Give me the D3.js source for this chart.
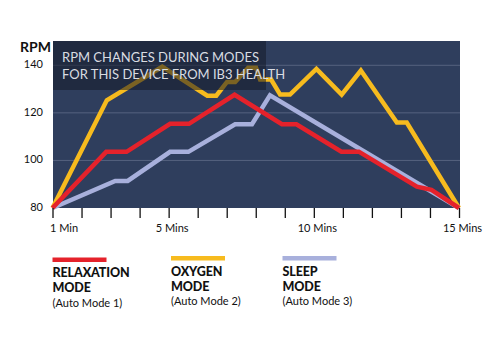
<!DOCTYPE html>
<html>
<head>
<script src="https://d3js.org/d3.v7.min.js"></script>
<style>
  body { margin: 0; background: #fff; }
  text { font-family: Lato, "Open Sans", sans-serif; }
</style>
</head>
<body>
<script>
const w = 500
const h = 343

// minute / rpm pairs
const relaxMins = [1, 2.85, 3.55, 5.05, 5.7, 7.27, 8.9, 9.4, 10.95, 11.55, 13.55, 14.05, 15]
const relaxRpm = [80, 103.6, 103.6, 115.4, 115.4, 127.6, 115.2, 115.2, 103.7, 103.7, 89, 87.6, 80]
const oxygenMins = [1, 2.87, 4.78, 6.33, 6.64, 7.01, 7.29, 7.74, 8.01, 8.15, 8.53, 8.84, 9.18, 10.09, 10.96, 11.62, 12.86, 13.2, 15]
const oxygenRpm = [80, 125.3, 139.4, 127.2, 127.2, 133, 133, 139, 139, 134, 134, 127.7, 127.7, 138.5, 127.7, 137.8, 115.9, 115.9, 80]
const sleepMins = [1, 3.16, 3.59, 5.05, 5.68, 7.29, 7.87, 8.49, 15]
const sleepRpm = [80, 91.4, 91.4, 103.6, 103.6, 115.2, 115.2, 127.4, 80]

const yTicks = [80, 100, 120, 140]
const xTickMins = d3.range(1, 16)
const xLabels = { 1: "1 Min", 5: "5 Mins", 10: "10 Mins", 15: "15 Mins" }

const modeNames = ["RELAXATION", "OXYGEN", "SLEEP"]
const modeSubs = ["(Auto Mode 1)", "(Auto Mode 2)", "(Auto Mode 3)"]
const modeColors = ["#e5222b", "#f7bb1e", "#a8b0dc"]
const titleLines = ["RPM CHANGES DURING MODES", "FOR THIS DEVICE FROM IB3 HEALTH"]

const plot = { left: 53, right: 460, top: 41, bottom: 208 }

const x = d3.scaleLinear().domain([1, 15]).range([52.5, 459])
const y = d3.scaleLinear().domain([80, 150]).range([208, 41.5])

const svg = d3.select("body").append("svg")
    .attr("width", w)
    .attr("height", h)

svg.append("rect")
    .attr("x", plot.left)
    .attr("y", plot.top)
    .attr("width", plot.right - plot.left)
    .attr("height", plot.bottom - plot.top)
    .attr("fill", "#2f3e5d")

// grid lines
svg.selectAll(".grid")
    .data(yTicks.slice(1))
    .enter().append("line")
    .attr("x1", plot.left)
    .attr("x2", plot.right)
    .attr("y1", d => y(d))
    .attr("y2", d => y(d))
    .attr("stroke", "#56637f")
    .attr("stroke-width", 1)

const series = [
    { mins: oxygenMins, rpm: oxygenRpm, color: modeColors[1] },
    { mins: sleepMins, rpm: sleepRpm, color: modeColors[2] },
    { mins: relaxMins, rpm: relaxRpm, color: modeColors[0] },
]
const line = d3.line().x(d => x(d[0])).y(d => y(d[1]))

series.forEach(s => {
    svg.append("path")
        .datum(s.mins.map((m, i) => [m, s.rpm[i]]))
        .attr("d", line)
        .attr("fill", "none")
        .attr("stroke", s.color)
        .attr("stroke-width", 4.5)
        .attr("stroke-linejoin", "miter")
})

// title box sits over the lines
svg.append("rect")
    .attr("x", plot.left)
    .attr("y", plot.top)
    .attr("width", 213)
    .attr("height", 49)
    .attr("fill", "#141a28")
    .attr("opacity", 0.55)

svg.selectAll(".title")
    .data(titleLines)
    .enter().append("text")
    .attr("x", 62)
    .attr("y", (d, i) => 62 + i * 16.5)
    .attr("fill", "#d9dce2")
    .attr("font-size", 13)
    .text(d => d)

// axes
const xAxis = d3.axisBottom(x)
    .tickValues(xTickMins)
    .tickSize(10)
    .tickFormat(d => xLabels[d] || "")
svg.append("g")
    .attr("transform", `translate(0, ${plot.bottom})`)
    .call(xAxis)
    .call(g => g.select(".domain").remove())
    .call(g => g.selectAll(".tick line").attr("stroke", "#111").attr("stroke-width", 1.3))
    .call(g => g.selectAll(".tick text")
        .attr("fill", "#111")
        .attr("font-size", 11)
        .attr("font-family", "Lato, 'Open Sans', sans-serif")
        .attr("dy", null)
        .attr("y", 24)
        .attr("text-anchor", d => d === 1 ? "start" : "middle")
        .attr("dx", d => d === 1 ? -3 : 3))

const yAxis = d3.axisLeft(y).tickValues(yTicks).tickSize(0).tickPadding(10)
svg.append("g")
    .attr("transform", `translate(${plot.left}, 0)`)
    .call(yAxis)
    .call(g => g.select(".domain").remove())
    .call(g => g.selectAll(".tick text")
        .attr("fill", "#111")
        .attr("font-size", 11)
        .attr("font-family", "Lato, 'Open Sans', sans-serif")
        .attr("dy", "0.2em"))

svg.append("text")
    .attr("x", 20)
    .attr("y", 51.5)
    .attr("font-size", 14)
    .attr("font-weight", "bold")
    .attr("fill", "#111")
    .text("RPM")

// legend
const legendX = [52.5, 171, 282.5]
const legendDy = [1.5, 0, 0]
const legend = svg.selectAll(".legend")
    .data(modeNames)
    .enter().append("g")
    .attr("transform", (d, i) => `translate(${legendX[i]}, ${256 + legendDy[i]})`)

legend.append("rect")
    .attr("x", 0)
    .attr("y", 0)
    .attr("width", 54)
    .attr("height", 4.5)
    .attr("fill", (d, i) => modeColors[i])

legend.append("text")
    .attr("y", 19.5)
    .attr("font-size", 12.5)
    .attr("letter-spacing", -0.1)
    .attr("font-weight", "900")
    .attr("fill", "#111")
    .text(d => d)

legend.append("text")
    .attr("y", 34.5)
    .attr("font-size", 12.5)
    .attr("letter-spacing", -0.1)
    .attr("font-weight", "900")
    .attr("fill", "#111")
    .text("MODE")

legend.append("text")
    .attr("y", 49)
    .attr("font-size", 11)
    .attr("fill", "#111")
    .text((d, i) => modeSubs[i])
</script>
</body>
</html>
